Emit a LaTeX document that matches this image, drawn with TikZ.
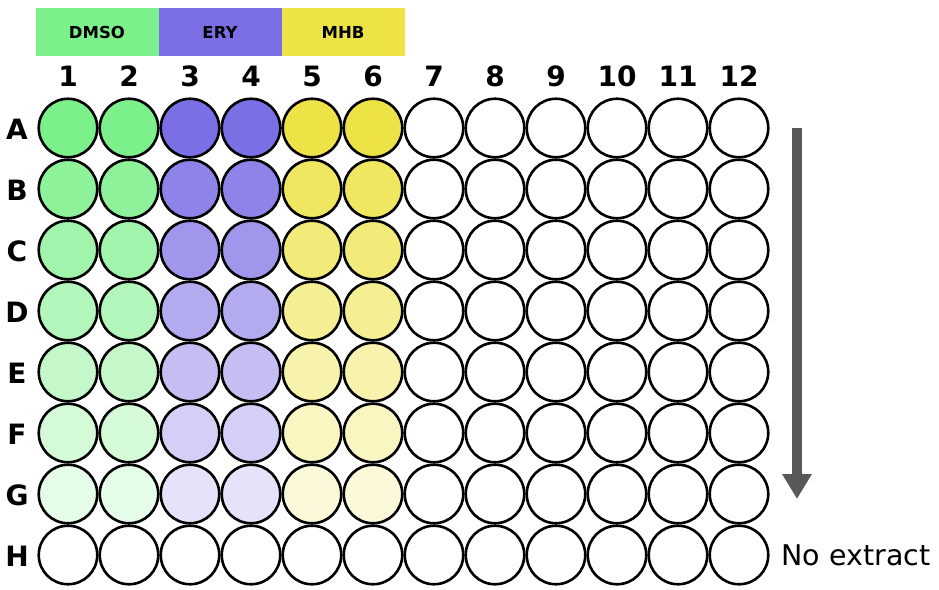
\documentclass[tikz,border=0pt]{standalone}
\usepackage{fontspec}
\setmainfont{DejaVu Sans}
\usetikzlibrary{arrows.meta}
\definecolor{cgreen}{HTML}{7CF08A}
\definecolor{cpurple}{HTML}{7B6FE5}
\definecolor{cyellow}{HTML}{EDE346}
\definecolor{carrow}{HTML}{585858}
\tikzset{
  well/.style={circle,draw=black,line width=2.6pt,minimum size=58.5pt,inner sep=0pt},
  hdr/.style={draw=none,minimum width=123pt,minimum height=48pt,inner sep=0pt,font=\fontsize{16.5}{16.5}\selectfont\bfseries},
  collab/.style={font=\fontsize{28}{28}\selectfont\bfseries},
  rowlab/.style={font=\fontsize{28}{28}\selectfont\bfseries},
}
\begin{document}
\begin{tikzpicture}[x=1pt,y=-1pt]
\useasboundingbox (0,0) rectangle (939,589);
\fill[white] (0,0) rectangle (939,589);
\node[hdr,fill=cgreen] (hd) at (97,32) {DMSO};
\node[hdr,fill=cpurple] (he) at (220,32) {ERY};
\node[hdr,fill=cyellow] (hm) at (343,32) {MHB};
\foreach \c in {1,...,12}{
  \node[collab] (col\c) at ({68+61*(\c-1)},76) {\c};
}
\foreach \l [count=\i from 0] in {A,B,C,D,E,F,G,H}{
  \node[rowlab] (row\l) at (17,{129+61*\i}) {\l};
}
\foreach \r/\t [count=\i from 0] in {A/100,B/86,C/72,D/58,E/45,F/33,G/20,H/0}{
  \foreach \c in {1,...,12}{
    \ifnum\c<3
      \node[well,fill=cgreen!\t!white] (w\r\c) at ({68+61*(\c-1)},{128+61*\i}) {};
    \else\ifnum\c<5
      \node[well,fill=cpurple!\t!white] (w\r\c) at ({68+61*(\c-1)},{128+61*\i}) {};
    \else\ifnum\c<7
      \node[well,fill=cyellow!\t!white] (w\r\c) at ({68+61*(\c-1)},{128+61*\i}) {};
    \else
      \node[well,fill=white] (w\r\c) at ({68+61*(\c-1)},{128+61*\i}) {};
    \fi\fi\fi
  }
}
\coordinate (arrs) at (797,128);
\coordinate (arre) at (797,499);
\draw[carrow,line width=10pt,-{Triangle[length=25pt,width=28pt]}] (arrs) -- (arre);
\node[anchor=west,font=\fontsize{28.5}{28.5}\selectfont] (noext) at (778,555) {No extract};
\end{tikzpicture}
\end{document}
